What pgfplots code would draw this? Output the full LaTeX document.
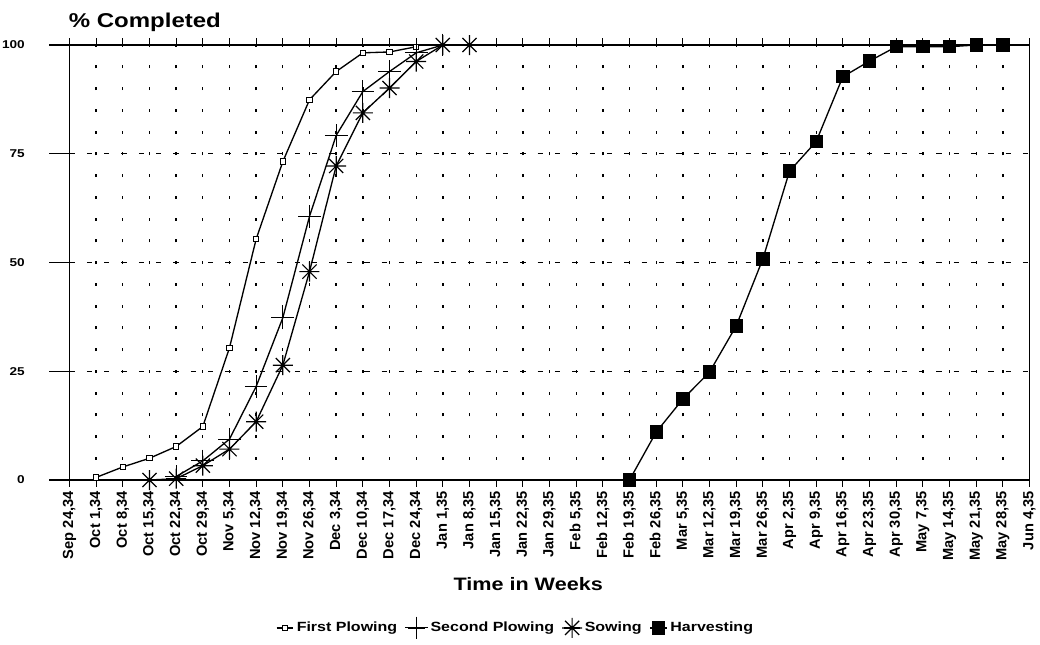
\documentclass[border=0pt]{standalone}
\usepackage{fontspec}
\setmainfont[FakeStretch=1.2]{Liberation Sans}
\newfontfamily\narrowfont{Liberation Sans}
\usepackage{pgfplots}
\pgfplotsset{compat=1.18}

% eight-armed asterisk for the sowing series
\pgfdeclareplotmark{ast8}{%
  \pgfpathmoveto{\pgfqpoint{-\pgfplotmarksize}{0pt}}%
  \pgfpathlineto{\pgfqpoint{\pgfplotmarksize}{0pt}}%
  \pgfpathmoveto{\pgfqpoint{0pt}{-\pgfplotmarksize}}%
  \pgfpathlineto{\pgfqpoint{0pt}{\pgfplotmarksize}}%
  \pgfpathmoveto{\pgfqpoint{-0.707\pgfplotmarksize}{-0.707\pgfplotmarksize}}%
  \pgfpathlineto{\pgfqpoint{0.707\pgfplotmarksize}{0.707\pgfplotmarksize}}%
  \pgfpathmoveto{\pgfqpoint{-0.707\pgfplotmarksize}{0.707\pgfplotmarksize}}%
  \pgfpathlineto{\pgfqpoint{0.707\pgfplotmarksize}{-0.707\pgfplotmarksize}}%
  \pgfusepathqstroke}

\begin{document}
\begin{tikzpicture}
\path[use as bounding box] (-52.125pt,-123pt) rectangle (727.875pt,360pt);
\begin{axis}[
    at={(0pt,0pt)}, anchor=south west,
    scale only axis, width=720pt, height=326.25pt,
    xmin=0, xmax=36, ymin=0, ymax=100,
    xtick={0,...,36},
    xticklabels={{Sep 24,34},{Oct 1,34},{Oct 8,34},{Oct 15,34},{Oct 22,34},{Oct 29,34},
      {Nov 5,34},{Nov 12,34},{Nov 19,34},{Nov 26,34},{Dec 3,34},{Dec 10,34},{Dec 17,34},
      {Dec 24,34},{Jan 1,35},{Jan 8,35},{Jan 15,35},{Jan 22,35},{Jan 29,35},{Feb 5,35},
      {Feb 12,35},{Feb 19,35},{Feb 26,35},{Mar 5,35},{Mar 12,35},{Mar 19,35},{Mar 26,35},
      {Apr 2,35},{Apr 9,35},{Apr 16,35},{Apr 23,35},{Apr 30,35},{May 7,35},{May 14,35},
      {May 21,35},{May 28,35},{Jun 4,35}},
    ytick={0,25,50,75,100},
    tick align=outside, major tick length=5pt,
    ytick style={draw=none},
    xtick style={black, line width=0.8pt},
    axis line style={black, line width=1pt},
    xmajorgrids, ymajorgrids,
    x grid style={black, line width=1pt, dash pattern=on 2.25pt off 14.0625pt, dash phase=1.125pt},
    y grid style={black, line width=0.8pt, dash pattern=on 4pt off 9pt},
    clip=false,
    xticklabel style={font=\narrowfont\bfseries\fontsize{11}{11}\selectfont, rotate=90, anchor=east},
    yticklabel style={font=\bfseries\fontsize{8.5}{8.5}\selectfont, xshift=-25pt},
    /pgf/number format/assume math mode=true,
    legend columns=4, legend cell align=left,
    legend style={draw=none, fill=none, at={(0.465,-0.34)}, anchor=center,
      font=\bfseries\fontsize{10}{10}\selectfont,
      /tikz/every even column/.append style={column sep=4pt}},
    legend image code/.code={\draw[mark repeat=2,mark phase=2,#1]
      plot coordinates {(0cm,0cm) (0.22cm,0cm) (0.44cm,0cm)};},
]
\addplot[black, line width=1pt, mark=square*, mark size=2pt,
  mark options={fill=white, solid, line width=0.8pt}] coordinates {
  (1,0.6) (2,3.0) (3,5.0) (4,7.7) (5,12.3) (6,30.4) (7,55.4) (8,73.2)
  (9,87.4) (10,93.9) (11,98.2) (12,98.4) (13,99.6)};
\addlegendentry{First Plowing}
\addplot[black, line width=1pt, mark=+, mark size=8.5pt,
  mark options={solid, line width=0.8pt}] coordinates {
  (4,0.8) (5,4.4) (6,9.4) (7,21.5) (8,37.3) (9,60.6) (10,79.2)
  (11,89.3) (12,93.9) (13,98.2) (14,100)};
\addlegendentry{Second Plowing}
\addplot[black, line width=1pt, mark=ast8, mark size=7.5pt,
  mark options={solid, line width=0.9pt}] coordinates {
  (3,0) (4,0.3) (5,3.3) (6,7.1) (7,13.4) (8,26.4) (9,47.9) (10,72.2)
  (11,84.4) (12,90.1) (13,96.2) (14,100) (15,100)};
\addlegendentry{Sowing}
\addplot[black, line width=1pt, mark=square*, mark size=4.5pt,
  mark options={fill=black, solid}] coordinates {
  (21,0) (22,11.0) (23,18.6) (24,24.8) (25,35.4) (26,50.8) (27,71.0)
  (28,77.8) (29,92.7) (30,96.3) (31,99.6) (32,99.6) (33,99.6) (34,100) (35,100)};
\addlegendentry{Harvesting}
% long outward y ticks
\pgfplotsinvokeforeach{0,25,50,75,100}{
  \draw[black, line width=1pt] (axis cs:0,#1) -- ++(-15pt,0pt);
}
\node[anchor=base west, xshift=-4pt, yshift=13.5pt, font=\bfseries\fontsize{15}{15}\selectfont]
  at (rel axis cs:0,1) {\% Completed};
\node[anchor=base, yshift=-83pt, font=\bfseries\fontsize{13.5}{13.5}\selectfont]
  at (axis cs:17.2,0) {Time in Weeks};
\end{axis}
\end{tikzpicture}
\end{document}
